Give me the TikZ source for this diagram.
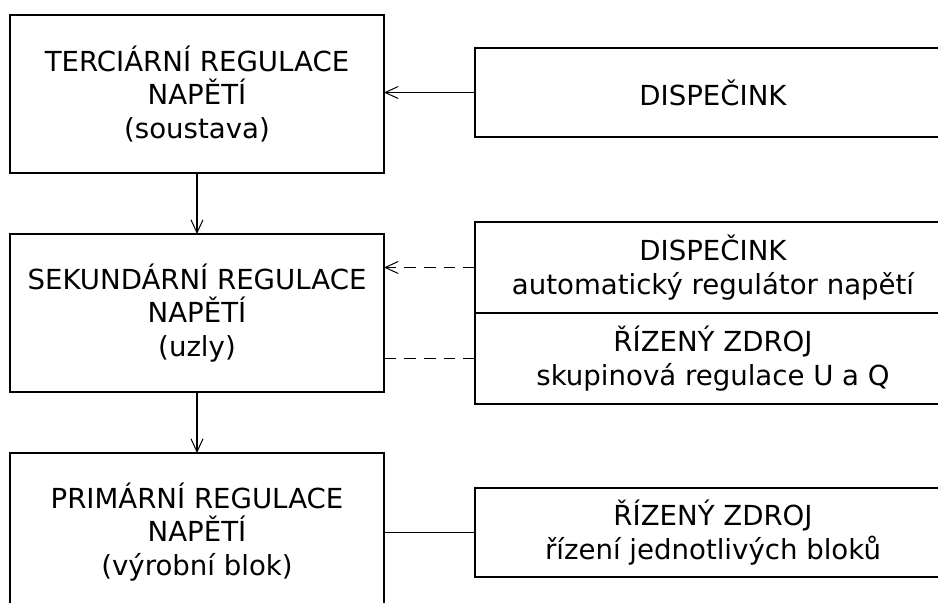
\documentclass[tikz,border=0pt]{standalone}
\usepackage{fontspec}
\setmainfont{DejaVu Sans}
\usetikzlibrary{arrows.meta}

\begin{document}
\begin{tikzpicture}[x = 0.5pt, y = -0.5pt, font=\fontsize{13.8}{16.6}\selectfont, line width = 0.6pt, >={Straight Barb[length = 6.5pt, width = 6pt, line width = 0.5pt]}]
	\tikzstyle{levelStyle}=[shape = rectangle, draw, align = center, minimum width = 187pt, minimum height = 79pt, inner sep = 0pt, outer sep = 0pt]
	\tikzstyle{sourceStyle}=[shape = rectangle, draw, align = center, minimum width = 238pt, minimum height = 44.5pt, inner sep = 0pt, outer sep = 0pt]
	\tikzstyle{halfStyle}=[sourceStyle, minimum height = 45.5pt]
	\tikzstyle{linkStyle}=[dash pattern = on 5.9pt off 3.95pt]
	\useasboundingbox (0,0) rectangle (938,603);
	\node[levelStyle] (ter) at (197, 94) {TERCIÁRNÍ REGULACE\\NAPĚTÍ\\(soustava)};
	\node[levelStyle] (sek) at (197, 313) {SEKUNDÁRNÍ REGULACE\\NAPĚTÍ\\(uzly)};
	\node[levelStyle] (pri) at (197, 532) {PRIMÁRNÍ REGULACE\\NAPĚTÍ\\(výrobní blok)};
	\node[sourceStyle] (disp) at (713, 92.5) {DISPEČINK};
	\node[halfStyle] (dispa) at (713, 267.5) {DISPEČINK\\automatický regulátor napětí};
	\node[halfStyle] (zdroja) at (713, 358.5) {ŘÍZENÝ ZDROJ\\skupinová regulace U a Q};
	\node[sourceStyle] (zdrojb) at (713, 532.5) {ŘÍZENÝ ZDROJ\\řízení jednotlivých bloků};
	\draw[->] (ter) -- (sek);
	\draw[->] (sek) -- (pri);
	\draw[->] (disp.west) -- (disp.west -| ter.east);
	\draw[->, linkStyle] (dispa.west) -- (dispa.west -| sek.east);
	\draw[linkStyle] (zdroja.west) -- (zdroja.west -| sek.east);
	\draw (zdrojb.west) -- (zdrojb.west -| pri.east);
\end{tikzpicture}
\end{document}
